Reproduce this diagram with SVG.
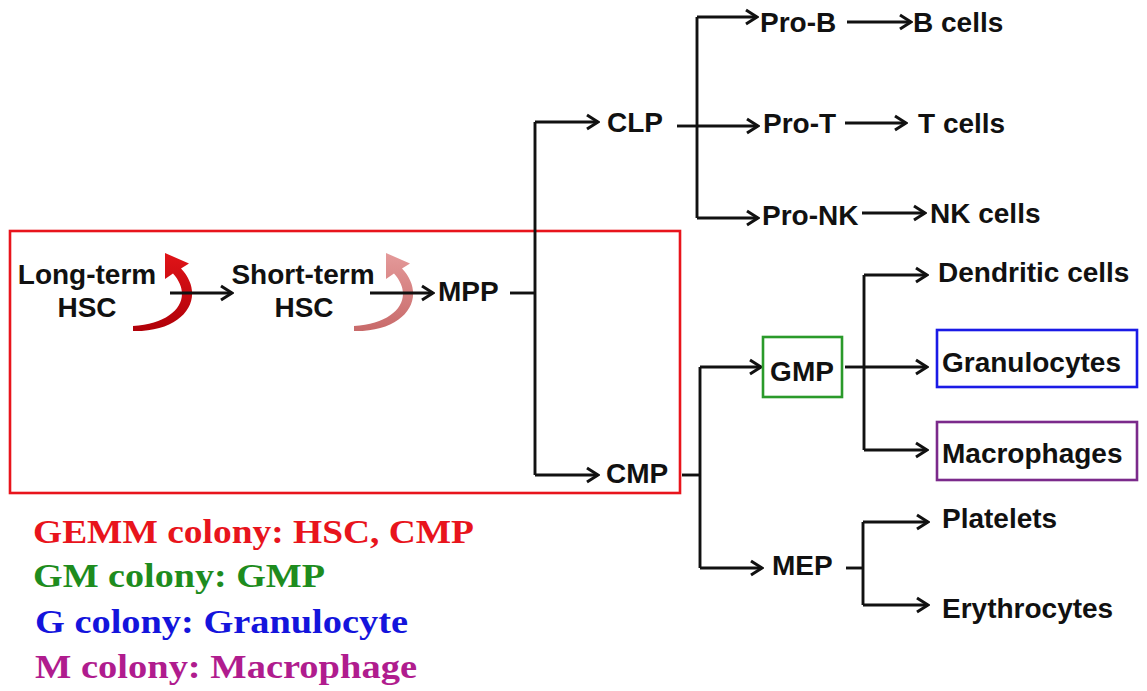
<svg xmlns="http://www.w3.org/2000/svg" width="1147" height="691" viewBox="0 0 1147 691">
<style>
.t{font-family:"Liberation Sans",Arial,sans-serif;font-weight:bold;font-size:28px;fill:#111}
.c{text-anchor:middle}
.lg{font-family:"Liberation Serif","Times New Roman",serif;font-weight:bold;font-size:34px}
.ln{fill:none;stroke:#111;stroke-width:2.9}
.ar{marker-end:url(#ah)}
</style>
<defs>
<marker id="ah" markerUnits="userSpaceOnUse" viewBox="-14 -9 16 18" refX="0" refY="0" markerWidth="16" markerHeight="18" orient="auto">
<path d="M-11,-7 L0,0 L-11,7" fill="none" stroke="#111" stroke-width="3"/>
</marker>
<linearGradient id="g1" x1="0" y1="1" x2="0" y2="0">
<stop offset="0" stop-color="#b00008"/>
<stop offset="1" stop-color="#e01418"/>
</linearGradient>
<linearGradient id="g2" x1="0" y1="1" x2="0" y2="0">
<stop offset="0" stop-color="#c86a6a"/>
<stop offset="1" stop-color="#e49a9a"/>
</linearGradient>
</defs>
<rect id="gemm-box" x="10" y="231" width="670" height="262" fill="none" stroke="#e8141c" stroke-width="2.6"/>
<g id="self-renew">
<path d="M133,331 C186,332 207,296 181,268.4 L189,263.5 L165,253 L165,279 L173,273.6 C194,297 177,323 133,326 Z" fill="url(#g1)"/>
<path transform="translate(221,0)" d="M133,331 C186,332 207,296 181,268.4 L189,263.5 L165,253 L165,279 L173,273.6 C194,297 177,323 133,326 Z" fill="url(#g2)"/>
</g>
<g id="connectors">
<path class="ln ar" d="M170,293 H232"/>
<path class="ln ar" d="M370,293 H433"/>
<path class="ln" d="M510,293 H535"/>
<path class="ln" d="M535,122 V475"/>
<path class="ln ar" d="M535,122 H598"/>
<path class="ln ar" d="M535,475 H598"/>
<path class="ln" d="M677,126 H697"/>
<path class="ln" d="M697,17 V218"/>
<path class="ln ar" d="M697,17 H757"/>
<path class="ln ar" d="M697,126 H758"/>
<path class="ln ar" d="M697,218 H758"/>
<path class="ln ar" d="M847,22 H911"/>
<path class="ln ar" d="M845,123 H906"/>
<path class="ln ar" d="M862,213 H925"/>
<path class="ln" d="M682,475 H700"/>
<path class="ln" d="M700,367 V568"/>
<path class="ln ar" d="M700,367 H761"/>
<path class="ln ar" d="M700,568 H762"/>
<path class="ln" d="M845,367 H864"/>
<path class="ln" d="M864,275 V450"/>
<path class="ln ar" d="M864,275 H927"/>
<path class="ln ar" d="M864,367 H927"/>
<path class="ln ar" d="M864,450 H927"/>
<path class="ln" d="M846,568 H863"/>
<path class="ln" d="M863,522 V605"/>
<path class="ln ar" d="M863,522 H928"/>
<path class="ln ar" d="M863,605 H928"/>
</g>
<g id="lt-hsc"><text class="t c" x="87" y="284">Long-term</text><text class="t c" x="87" y="317">HSC</text></g>
<g id="st-hsc"><text class="t c" x="303" y="284">Short-term</text><text class="t c" x="304" y="317">HSC</text></g>
<g id="mpp"><text class="t" x="438" y="301">MPP</text></g>
<g id="clp"><text class="t" x="607" y="132">CLP</text></g>
<g id="cmp"><text class="t" x="606" y="483">CMP</text></g>
<g id="pro-b"><text class="t" x="760" y="32">Pro-B</text></g>
<g id="pro-t"><text class="t" x="763" y="133">Pro-T</text></g>
<g id="pro-nk"><text class="t" x="762" y="225">Pro-NK</text></g>
<g id="b-cells"><text class="t" x="913" y="32">B cells</text></g>
<g id="t-cells"><text class="t" x="918" y="133">T cells</text></g>
<g id="nk-cells"><text class="t" x="930" y="223">NK cells</text></g>
<g id="gmp"><rect x="763" y="337" width="79" height="60" fill="none" stroke="#2a9a2a" stroke-width="2.6"/><text class="t c" x="802" y="381">GMP</text></g>
<g id="dendritic"><text class="t" x="938" y="282">Dendritic cells</text></g>
<g id="granulocytes"><rect x="937" y="330" width="200" height="57" fill="none" stroke="#1a1ae6" stroke-width="2.6"/><text class="t" x="942" y="372">Granulocytes</text></g>
<g id="macrophages"><rect x="937" y="422" width="200" height="58" fill="none" stroke="#7b2a8b" stroke-width="2.6"/><text class="t" x="942" y="463">Macrophages</text></g>
<g id="mep"><text class="t" x="772" y="575">MEP</text></g>
<g id="platelets"><text class="t" x="942" y="528">Platelets</text></g>
<g id="erythrocytes"><text class="t" x="942" y="618">Erythrocytes</text></g>
<g id="legend">
<text class="lg" x="33" y="543" fill="#e8141c" textLength="441" lengthAdjust="spacingAndGlyphs">GEMM colony: HSC, CMP</text>
<text class="lg" x="33" y="587" fill="#1e8c1e" textLength="292" lengthAdjust="spacingAndGlyphs">GM colony: GMP</text>
<text class="lg" x="35" y="633" fill="#1414dc" textLength="373" lengthAdjust="spacingAndGlyphs">G colony: Granulocyte</text>
<text class="lg" x="35" y="678" fill="#b01c8e" textLength="382" lengthAdjust="spacingAndGlyphs">M colony: Macrophage</text>
</g>
</svg>
